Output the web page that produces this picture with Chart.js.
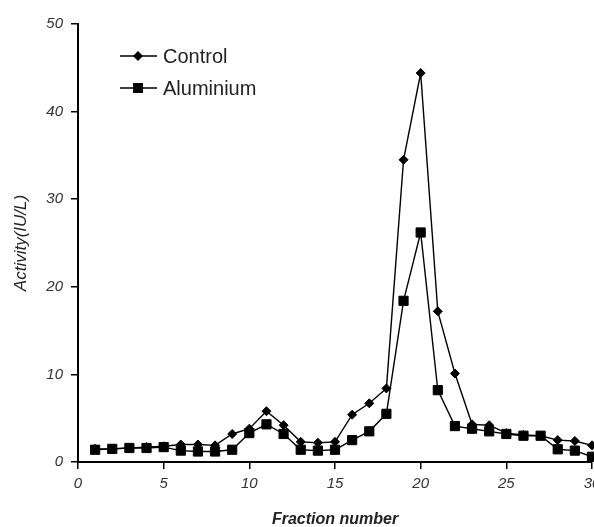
<!DOCTYPE html>
<html>
<head>
<meta charset="utf-8">
<script src="https://cdn.jsdelivr.net/npm/chart.js@4.4.1/dist/chart.umd.min.js"></script>
<style>
  html, body { margin: 0; padding: 0; background: #fff; overflow: hidden; }
  #wrap { position: relative; width: 620px; height: 530px; }
</style>
</head>
<body>
<div id="wrap"><canvas id="fractionChart"></canvas></div>
<script>
const fractions = [1, 2, 3, 4, 5, 6, 7, 8, 9, 10, 11, 12, 13, 14, 15, 16, 17, 18, 19, 20, 21, 22, 23, 24, 25, 26, 27, 28, 29, 30];
const control = [1.5, 1.5, 1.6, 1.7, 1.8, 2.0, 2.0, 1.9, 3.2, 3.8, 5.8, 4.2, 2.3, 2.2, 2.3, 5.4, 6.7, 8.4, 34.5, 44.4, 17.2, 10.1, 4.3, 4.2, 3.3, 3.1, 3.0, 2.5, 2.4, 1.9];
const aluminium = [1.4, 1.5, 1.6, 1.6, 1.7, 1.3, 1.2, 1.2, 1.4, 3.3, 4.3, 3.2, 1.4, 1.3, 1.4, 2.5, 3.5, 5.5, 18.4, 26.2, 8.2, 4.1, 3.8, 3.5, 3.2, 3.0, 3.0, 1.45, 1.3, 0.6];
const seriesNames = ['Control', 'Aluminium'];

function toPoints(values) {
  return fractions.map((f, i) => ({ x: f, y: values[i] }));
}

// legend drawn inside the plot, like the original figure
const insideLegend = {
  id: 'insideLegend',
  afterDraw(chart) {
    const ctx = chart.ctx;
    const rows = [56, 88];
    ctx.save();
    seriesNames.forEach((name, i) => {
      const ds = chart.data.datasets.find(d => d.label === name);
      const y = rows[i];
      ctx.strokeStyle = '#000';
      ctx.lineWidth = 1.4;
      ctx.beginPath();
      ctx.moveTo(120, y);
      ctx.lineTo(157, y);
      ctx.stroke();
      ctx.fillStyle = '#000';
      Chart.helpers.drawPoint(ctx, {
        pointStyle: ds.pointStyle,
        radius: ds.pointRadius - 0.5,
        rotation: 0,
        borderWidth: 1
      }, 138, y);
      ctx.fillStyle = '#222';
      ctx.font = '20px "Liberation Sans", Arial, sans-serif';
      ctx.textBaseline = 'middle';
      ctx.textAlign = 'left';
      ctx.fillText(name, 163, y + 1);
    });
    ctx.restore();
  }
};

const ctx = document.getElementById('fractionChart').getContext('2d');
new Chart(ctx, {
  type: 'line',
  data: {
    datasets: [
      {
        label: 'Control',
        data: toPoints(control),
        borderColor: '#000',
        backgroundColor: '#000',
        borderWidth: 1.4,
        pointStyle: 'rectRot',
        pointRadius: 4.5,
        pointBorderWidth: 1,
        tension: 0,
        fill: false,
        clip: false,
        order: 1
      },
      {
        label: 'Aluminium',
        data: toPoints(aluminium),
        borderColor: '#000',
        backgroundColor: '#000',
        borderWidth: 1.4,
        pointStyle: 'rect',
        pointRadius: 6.5,
        pointBorderWidth: 1,
        tension: 0,
        fill: false,
        clip: false,
        order: 0
      }
    ]
  },
  options: {
    responsive: true,
    maintainAspectRatio: false,
    animation: false,
    layout: { padding: { top: 24, right: 28, left: 0, bottom: 0 } },
    plugins: {
      legend: { display: false },
      tooltip: { enabled: false }
    },
    scales: {
      x: {
        type: 'linear',
        min: 0,
        max: 30,
        ticks: {
          stepSize: 5,
          padding: 6,
          color: '#333',
          font: { family: '"Liberation Sans", Arial, sans-serif', size: 15, style: 'italic' },
          maxRotation: 0
        },
        grid: { drawOnChartArea: false, drawTicks: true, tickLength: 7, color: '#000', lineWidth: 1.5 },
        border: { display: true, color: '#000', width: 2 },
        title: {
          display: true,
          text: 'Fraction number',
          color: '#222',
          font: { family: '"Liberation Sans", Arial, sans-serif', size: 16, style: 'italic', weight: 'bold' },
          padding: { top: 0, bottom: 1 }
        },
        afterFit(scale) { scale.height = 68; }
      },
      y: {
        min: 0,
        max: 50,
        ticks: {
          stepSize: 10,
          padding: 8,
          color: '#333',
          font: { family: '"Liberation Sans", Arial, sans-serif', size: 15, style: 'italic' }
        },
        grid: { drawOnChartArea: false, drawTicks: true, tickLength: 7, color: '#000', lineWidth: 1.5 },
        border: { display: true, color: '#000', width: 2 },
        title: {
          display: true,
          text: 'Activity(IU/L)',
          color: '#222',
          font: { family: '"Liberation Sans", Arial, sans-serif', size: 17, style: 'italic' },
          padding: { top: 11, bottom: 0 }
        },
        afterFit(scale) { scale.width = 78; }
      }
    }
  },
  plugins: [insideLegend]
});
</script>
</body>
</html>
